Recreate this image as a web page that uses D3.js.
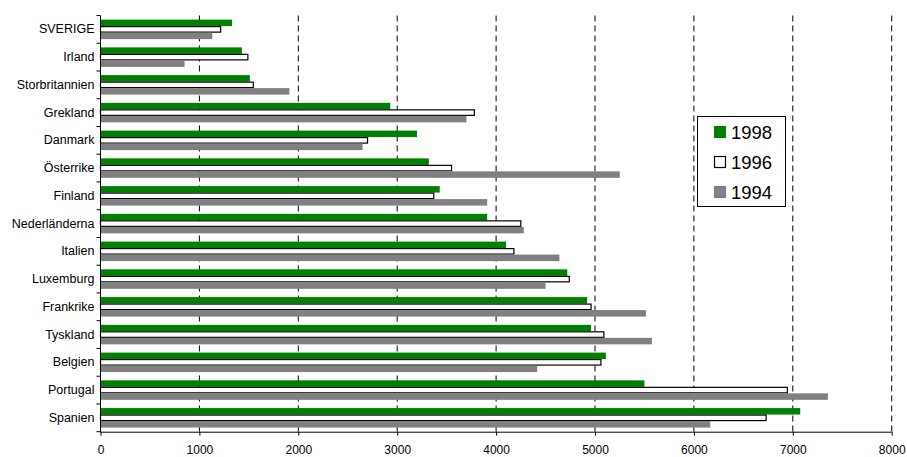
<!DOCTYPE html>
<html><head><meta charset="utf-8">
<script src="https://cdn.jsdelivr.net/npm/d3@7"></script>
<style>body{margin:0;background:#fff}svg{display:block}text{font-family:"Liberation Sans",Arial,sans-serif}</style>
</head><body>
<svg id="c" width="907" height="457"></svg>
<script>
const categories = ["SVERIGE","Irland","Storbritannien","Grekland","Danmark","Österrike","Finland","Nederländerna","Italien","Luxemburg","Frankrike","Tyskland","Belgien","Portugal","Spanien"];
const series = ["1998","1996","1994"];
const values1998 = [1330,1430,1510,2930,3200,3320,3430,3910,4100,4720,4920,4960,5110,5500,7075];
const values1996 = [1215,1490,1545,3780,2700,3550,3370,4250,4180,4740,4960,5090,5060,6945,6730];
const values1994 = [1130,850,1910,3700,2650,5250,3910,4280,4640,4500,5515,5575,4415,7355,6165];
const xTicks = [0,1000,2000,3000,4000,5000,6000,7000,8000];

const seriesValues = {"1998":values1998,"1996":values1996,"1994":values1994};
const fills = {"1998":"#008000","1996":"#ffffff","1994":"#808080"};
const strokes = {"1998":"none","1996":"#000","1994":"none"};

const svg = d3.select("#c");
const L = 100.5, R = 891.7, T = 15.5, B = 431.7;
const x = d3.scaleLinear().domain([0,8000]).range([L,R]);
const y = d3.scaleBand().domain(categories).range([T,B]).paddingInner(0).paddingOuter(0);
const bw = y.bandwidth();
const barH = 6.5;
const pad = (bw - barH*3)/2;
const inner = d3.scaleBand().domain(series).range([pad, pad+barH*3]);

// gridlines
svg.append("g").selectAll("line").data(xTicks.filter(d=>d>0)).join("line")
  .attr("x1",d=>x(d)).attr("x2",d=>x(d)).attr("y1",T).attr("y2",B)
  .attr("stroke","#000").attr("stroke-width",1).attr("stroke-dasharray","6,4");

// bars
const g = svg.append("g");
series.forEach(s=>{
  g.append("g").selectAll("rect").data(categories).join("rect")
    .attr("x",x(0))
    .attr("y",(c)=>y(c)+inner(s) + (s==="1996"?0.5:0))
    .attr("width",(c,i)=>x(seriesValues[s][i])-x(0))
    .attr("height",s==="1996"?barH-1:barH)
    .attr("fill",fills[s]).attr("stroke",strokes[s]).attr("stroke-width",1.2);
});

// y axis
const yAxis = d3.axisLeft(y).tickSize(0).tickPadding(6);
const ya = svg.append("g").attr("transform",`translate(${L},0)`).call(yAxis);
ya.select(".domain").remove();
ya.selectAll("text").attr("font-size","12.5px").attr("fill","#000").style("font-family","Liberation Sans, Arial, sans-serif");
svg.append("line").attr("x1",L).attr("x2",L).attr("y1",T).attr("y2",B).attr("stroke","#000");
const bounds = categories.map(c=>y(c)).concat([B]);
svg.append("g").selectAll("line").data(bounds).join("line")
  .attr("x1",L-4).attr("x2",L).attr("y1",d=>d).attr("y2",d=>d).attr("stroke","#000");

// x axis
const xAxis = d3.axisBottom(x).tickValues(xTicks).tickSize(4).tickPadding(10).tickFormat(d3.format("d"));
const xa = svg.append("g").attr("transform",`translate(0,${B})`).call(xAxis);
xa.select(".domain").attr("d",`M${L},0.5H${R}`).attr("stroke","#000");
xa.selectAll(".tick line").attr("stroke","#000");
xa.selectAll("text").attr("font-size","12px").attr("fill","#000").style("font-family","Liberation Sans, Arial, sans-serif");

// legend
const lg = svg.append("g");
lg.append("rect").attr("x",697.5).attr("y",116.5).attr("width",88).attr("height",90)
  .attr("fill","#fff").attr("stroke","#000");
series.forEach((s,i)=>{
  const cy = 132 + i*30;
  lg.append("rect").attr("x",s==="1996"?714.5:714).attr("y",s==="1996"?cy-5.5:cy-6)
    .attr("width",s==="1996"?11:12).attr("height",s==="1996"?11:12)
    .attr("fill",fills[s]).attr("stroke",strokes[s]).attr("stroke-width",1.2);
  lg.append("text").attr("x",731).attr("y",cy).attr("dy","0.36em")
    .attr("font-size","18.5px").text(s);
});
</script>
</body></html>
